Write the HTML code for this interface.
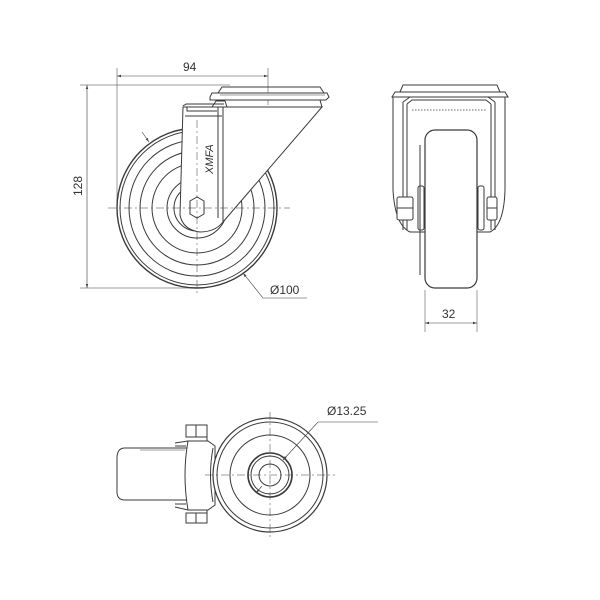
<!DOCTYPE html>
<html><head><meta charset="utf-8"><style>
html,body{margin:0;padding:0;background:#fff}
svg{display:block}
text{font-family:"Liberation Sans",sans-serif;font-size:12px;fill:#333}
</style></head><body>
<svg width="600" height="600" viewBox="0 0 600 600" xmlns="http://www.w3.org/2000/svg">
<defs>
<marker id="a" viewBox="0 0 10 10" refX="10" refY="5" markerWidth="7" markerHeight="7" orient="auto-start-reverse"><path d="M0,2 L10,5 L0,8 z" fill="#444"/></marker>
</defs>
<g fill="none" stroke="#3a3a3a" stroke-width="1">
<!-- FRONT VIEW -->
<line x1="117" y1="68" x2="117" y2="210" stroke-width="0.5"/>
<line x1="268" y1="68" x2="268" y2="105" stroke-width="0.5"/>
<line x1="117" y1="76" x2="268" y2="76" stroke-width="0.6" marker-start="url(#a)" marker-end="url(#a)"/>
<line x1="80" y1="85" x2="230" y2="85" stroke-width="0.5"/>
<line x1="80" y1="288" x2="200" y2="288" stroke-width="0.5"/>
<line x1="87" y1="85" x2="87" y2="288" stroke-width="0.6" marker-start="url(#a)" marker-end="url(#a)"/>
<circle cx="197" cy="208" r="80" stroke-width="1.4"/>
<circle cx="197" cy="208" r="77"/>
<circle cx="197" cy="208" r="68"/>
<circle cx="197" cy="208" r="57"/>
<circle cx="197" cy="208" r="45"/>
<circle cx="197" cy="208" r="30"/>
<circle cx="197" cy="208" r="23"/>
<path d="M183,107 L227,107 L322,107 L223,222 Q215,232 200,232 Q183,230 180,215 L183,107 z" fill="#fff"/>
<line x1="218" y1="107" x2="218" y2="218"/>
<line x1="223" y1="107" x2="223" y2="222"/>
<line x1="185" y1="116" x2="222" y2="116"/>
<path d="M187,107 L187,111 L217,111"/>
<path d="M183,106 L186,104 L224,104"/>
<path d="M212,107 L216,101 L225,101 L227,107"/>
<path d="M210,97 L212,93 L327,93 L329,97 L326,100 L210,100 z" fill="#fff"/>
<path d="M218,93 L222,87 L320,87 L324,93"/>
<path d="M214,100 L320,100 L322,107"/>
<line x1="220" y1="95" x2="325" y2="95" stroke-width="0.5"/>
<polygon points="190,201 197,197 204,201 204,214 197,218 190,214" fill="#fff"/>
<text x="0" y="0" transform="translate(213,174) rotate(-90)" stroke="none" style="font-size:11px;font-style:italic">XMFA</text>
<line x1="108" y1="208" x2="290" y2="208" stroke-dasharray="8,3,2,3" stroke-width="0.5"/>
<line x1="197" y1="120" x2="197" y2="295" stroke-dasharray="8,3,2,3" stroke-width="0.5"/>
<line x1="142" y1="132" x2="149" y2="142" stroke-width="0.6" marker-end="url(#a)"/>
<polyline points="307,298 263,298 243,273" stroke-width="0.6" marker-end="url(#a)"/>

<!-- SIDE VIEW -->
<path d="M392,97 L395,92 L505,92 L508,97 z" fill="#fff"/>
<path d="M400,92 L403,85 L497,85 L500,92"/>
<path d="M393,97 L393,190 Q395,225 410,232 L490,232 Q504,225 505,190 L505,97"/>
<path d="M403,102 L403,230 M407,104 L407,230 M491,104 L491,230 M495,102 L495,230"/>
<path d="M403,102 L410,97 L488,97 L495,102"/>
<path d="M407,104 L412,100 L486,100 L491,104"/>
<line x1="412" y1="110" x2="486" y2="110" stroke-dasharray="1.5,1.5" stroke-width="0.8"/>
<rect x="425" y="130" width="52" height="158" rx="10" fill="#fff" stroke-width="1.2"/>
<line x1="420" y1="145" x2="420" y2="275"/>
<rect x="418" y="186" width="6" height="44" rx="2"/>
<rect x="478" y="186" width="6" height="44" rx="2"/>
<rect x="397" y="197" width="16" height="23" rx="2" fill="#fff"/>
<line x1="397" y1="208" x2="413" y2="208"/>
<rect x="487" y="197" width="10" height="23" rx="2" fill="#fff"/>
<line x1="487" y1="208" x2="497" y2="208"/>
<line x1="425" y1="290" x2="425" y2="332" stroke-width="0.5"/>
<line x1="477" y1="290" x2="477" y2="332" stroke-width="0.5"/>
<line x1="425" y1="323" x2="477" y2="323" stroke-width="0.6" marker-start="url(#a)" marker-end="url(#a)"/>

<!-- BOTTOM VIEW -->
<path d="M190,448 L125,448 Q117,448 117,458 L117,492 Q117,500 125,500 L190,500"/>
<line x1="140" y1="450" x2="185" y2="450" stroke-width="0.5"/>
<path d="M188,441 L208,441 L215,446 L215,505 L208,510 L188,510 Q182,475 188,441 z" fill="#fff"/>
<path d="M175,443 L188,441 M175,446 L186,446 M175,504 L186,504 M175,507 L188,510"/>
<rect x="186" y="425" width="21" height="12" fill="#fff"/>
<line x1="196" y1="425" x2="196" y2="437"/>
<rect x="186" y="513" width="21" height="10" fill="#fff"/>
<line x1="196" y1="513" x2="196" y2="523"/>
<path d="M186,437 L207,437 L207,441 M186,513 L207,513 L207,510"/>
<circle cx="270" cy="475" r="57" fill="#fff" stroke-width="1.2"/>
<circle cx="270" cy="475" r="53"/>
<circle cx="270" cy="475" r="40"/>
<circle cx="270" cy="475" r="22" stroke-width="1.6"/>
<circle cx="270" cy="475" r="19"/>
<circle cx="270" cy="475" r="11"/>
<path d="M213,448 Q208,475 213,502"/>
<line x1="205" y1="475" x2="335" y2="475" stroke-dasharray="8,3,2,3" stroke-width="0.5"/>
<line x1="270" y1="412" x2="270" y2="540" stroke-dasharray="8,3,2,3" stroke-width="0.5"/>
<polyline points="378,422 318,422 283,460" stroke-width="0.6" marker-end="url(#a)"/>
<line x1="262" y1="486" x2="256" y2="493" stroke-width="0.6" marker-end="url(#a)"/>
</g>
<text x="183" y="71">94</text>
<text x="0" y="0" transform="translate(82,196) rotate(-90)">128</text>
<text x="270" y="294">Ø100</text>
<text x="442" y="318">32</text>
<text x="327" y="415">Ø13.25</text>
</svg>
</body></html>
